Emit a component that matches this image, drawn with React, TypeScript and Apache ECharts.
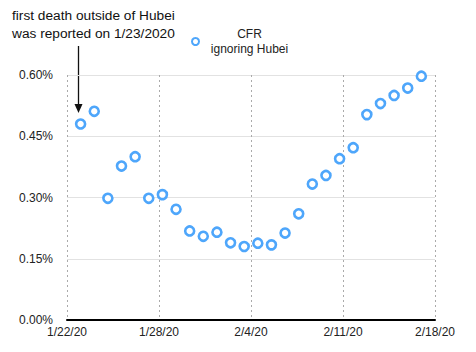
import React, { useEffect, useRef } from "react";
import * as echarts from "echarts";

// Days since 1/22/20 (first point = 1/23/20)
const dayIndex: number[] = [
  1, 2, 3, 4, 5, 6, 7, 8, 9, 10, 11, 12, 13, 14, 15, 16, 17, 18, 19, 20, 21, 22,
  23, 24, 25, 26,
];
// CFR ignoring Hubei, in percent
const cfrValues: number[] = [
  0.48, 0.511, 0.298, 0.377, 0.4, 0.298, 0.307, 0.271, 0.218, 0.205, 0.215,
  0.189, 0.18, 0.188, 0.184, 0.213, 0.26, 0.333, 0.354, 0.395, 0.422, 0.503,
  0.53, 0.55, 0.568, 0.597,
];
const xTickLabels: string[] = ["1/22/20", "1/28/20", "2/4/20", "2/11/20", "2/18/20"];
const yTicks: number[] = [0, 0.15, 0.3, 0.45, 0.6];

const FONT = "'Liberation Sans', Arial, Helvetica, sans-serif";
const BLUE = "#4ea6fb";

export default function App() {
  const ref = useRef<HTMLDivElement>(null);
  useEffect(() => {
    if (!ref.current) return;
    const chart = echarts.init(ref.current, null, { renderer: "svg" });
    const xMax = 27;
    const xInterval = xMax / (xTickLabels.length - 1);
    chart.setOption({
      animation: false,
      textStyle: { fontFamily: FONT },
      grid: { left: 67, right: 41, top: 75, bottom: 32 },
      legend: {
        left: 191,
        top: 28,
        padding: 0,
        itemWidth: 7,
        itemHeight: 7,
        itemGap: 5,
        itemStyle: { color: "#fff", borderColor: BLUE, borderWidth: 2 },
        formatter: () => "{a|CFR}\n{a|ignoring Hubei}",
        textStyle: {
          fontFamily: FONT,
          fontSize: 12,
          color: "#222",
          rich: {
            a: { width: 91, align: "center", fontSize: 12, lineHeight: 15, fontFamily: FONT, color: "#222" },
          },
        },
        data: ["CFR ignoring Hubei"],
      },
      xAxis: {
        type: "value",
        min: 0,
        max: xMax,
        interval: xInterval,
        axisLine: { show: true, lineStyle: { color: "#000", width: 2 } },
        axisTick: { show: false },
        axisLabel: {
          fontSize: 12,
          color: "#222",
          fontFamily: FONT,
          margin: 6,
          formatter: (v: number) => xTickLabels[Math.round(v / xInterval)] ?? "",
        },
        splitLine: { show: true, lineStyle: { color: "#aaa", type: [2, 3], width: 1 } },
      },
      yAxis: {
        type: "value",
        min: yTicks[0],
        max: yTicks[yTicks.length - 1],
        interval: yTicks[1] - yTicks[0],
        axisLine: { show: false },
        axisTick: { show: false },
        axisLabel: {
          fontSize: 12,
          color: "#222",
          fontFamily: FONT,
          margin: 14,
          formatter: (v: number) => v.toFixed(2) + "%",
        },
        splitLine: { show: true, lineStyle: { color: "#e2e2e2", width: 1 } },
      },
      series: [
        {
          name: "CFR ignoring Hubei",
          type: "scatter",
          symbol: "circle",
          symbolSize: 9,
          itemStyle: { color: "#fff", borderColor: BLUE, borderWidth: 2.6, opacity: 1 },
          data: dayIndex.map((d, i) => [d, cfrValues[i]]),
          z: 5,
        },
      ],
      graphic: [
        {
          type: "text",
          left: 12,
          top: 6,
          style: {
            text: "first death outside of Hubei\nwas reported on 1/23/2020",
            font: `13.7px ${FONT}`,
            lineHeight: 18,
            fill: "#111",
          },
        },
        {
          type: "line",
          shape: { x1: 78.5, y1: 46, x2: 78.5, y2: 106 },
          style: { stroke: "#111", lineWidth: 1.3 },
        },
        {
          type: "polygon",
          shape: { points: [[74.5, 104], [82.5, 104], [78.5, 113]] },
          style: { fill: "#111" },
        },
      ],
    });
    return () => chart.dispose();
  }, []);
  return (
    <div
      ref={ref}
      style={{ position: "fixed", left: 0, top: 0, width: 476, height: 352, background: "#fff" }}
    />
  );
}
